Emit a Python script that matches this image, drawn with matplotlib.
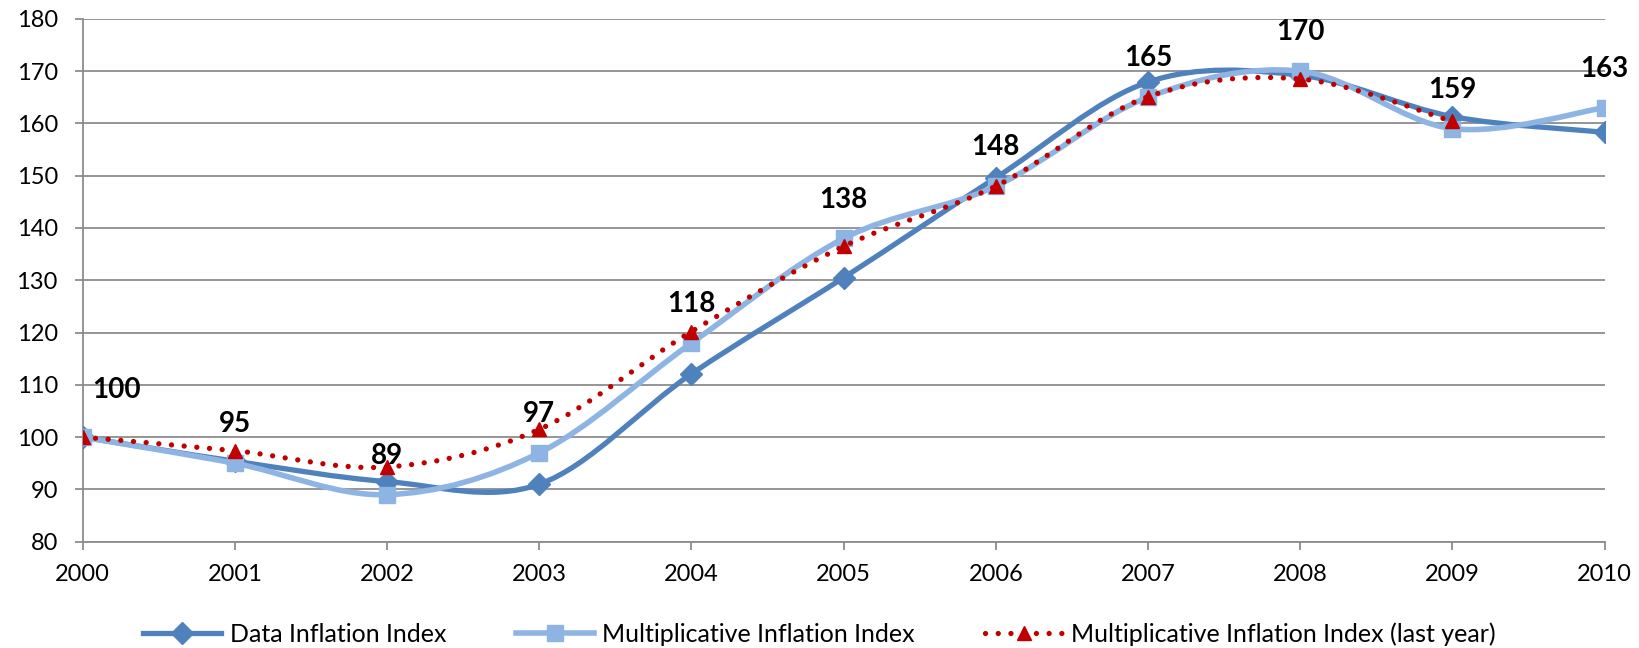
import matplotlib.pyplot as plt
from matplotlib.path import Path
from matplotlib.patches import PathPatch
from matplotlib.lines import Line2D

plt.rcParams['font.family'] = ['Lato', 'DejaVu Sans']

years = [2000, 2001, 2002, 2003, 2004, 2005, 2006, 2007, 2008, 2009, 2010]
data_index = [100, 95.4, 91.5, 91.0, 112.1, 130.5, 149.6, 167.9, 169.2, 161.3, 158.3]
mult_index = [100, 95, 89, 97, 118, 138, 148, 165, 170, 159, 163]
mult_last_year = [100, 97.4, 94.3, 101.5, 120.2, 136.5, 148.0, 165.1, 168.5, 160.4]
labels = ['100', '95', '89', '97', '118', '138', '148', '165', '170', '159', '163']

c_dark = '#4F81BD'
c_light = '#8EB4E3'
c_red = '#C00000'
c_grid = '#8C8C8C'


def smooth_path(xs, ys):
    # curva suave tipo excel (bezier con puntos de control catmull-rom)
    pts = list(zip(xs, ys))
    verts = [pts[0]]
    codes = [Path.MOVETO]
    n = len(pts)
    for i in range(n - 1):
        p0 = pts[i - 1] if i > 0 else pts[i]
        p1 = pts[i]
        p2 = pts[i + 1]
        p3 = pts[i + 2] if i + 2 < n else pts[i + 1]
        c1 = (p1[0] + (p2[0] - p0[0]) / 6, p1[1] + (p2[1] - p0[1]) / 6)
        c2 = (p2[0] - (p3[0] - p1[0]) / 6, p2[1] - (p3[1] - p1[1]) / 6)
        verts += [c1, c2, p2]
        codes += [Path.CURVE4] * 3
    return Path(verts, codes)


fig = plt.figure(figsize=(16.39, 6.48), dpi=100)
ax = fig.add_axes([0.0505, 0.164, 0.9285, 0.807])

dots = (0, (0.01, 2.4))

p = PathPatch(smooth_path(years, data_index), fill=False, edgecolor=c_dark, lw=3.8, zorder=3)
ax.add_patch(p)
ax.plot(years, data_index, 'D', color=c_dark, ms=11, zorder=4)

p = PathPatch(smooth_path(years, mult_index), fill=False, edgecolor=c_light, lw=4.0, zorder=5)
ax.add_patch(p)
ax.plot(years, mult_index, 's', color=c_light, ms=12, zorder=6)

p = PathPatch(smooth_path(years[:len(mult_last_year)], mult_last_year), fill=False,
              edgecolor=c_red, lw=3.8, linestyle=dots, capstyle='round', zorder=7)
ax.add_patch(p)
ax.plot(years[:len(mult_last_year)], mult_last_year, '^', color=c_red, ms=10.5, zorder=8)

for i, (x, y) in enumerate(zip(years, mult_index)):
    off = (24, 34) if i == 0 else (0, 28)
    ax.annotate(labels[i], (x, y), xytext=off, textcoords='offset points',
                ha='center', va='center', fontsize=20, fontweight='bold',
                color='black', zorder=10, annotation_clip=False)

ax.set_xlim(2000, 2010)
ax.set_ylim(80, 180)
ax.set_xticks(years)
ax.set_yticks(range(80, 181, 10))
ax.yaxis.grid(True, color=c_grid, lw=1.3)
ax.set_axisbelow(True)
for s in ['top', 'right']:
    ax.spines[s].set_visible(False)
for s in ['left', 'bottom']:
    ax.spines[s].set_color(c_grid)
    ax.spines[s].set_linewidth(1.3)
ax.tick_params(axis='both', colors=c_grid, labelcolor='black', labelsize=17, length=6, width=1.3)
ax.tick_params(axis='x', pad=10)
ax.tick_params(axis='y', pad=12)

handles = [
    Line2D([], [], color=c_dark, lw=3.8, marker='D', ms=11),
    Line2D([], [], color=c_light, lw=4.0, marker='s', ms=12),
    Line2D([], [], color=c_red, lw=3.8, linestyle=dots, dash_capstyle='round', marker='^', ms=10.5),
]
names = ['Data Inflation Index', 'Multiplicative Inflation Index',
         'Multiplicative Inflation Index (last year)']
fig.legend(handles, names, loc='center', bbox_to_anchor=(0.5, 0.022), ncol=3,
           frameon=False, fontsize=18, handlelength=3.1, columnspacing=2.8, handletextpad=0.35)

fig.savefig('out.png', dpi=100)
